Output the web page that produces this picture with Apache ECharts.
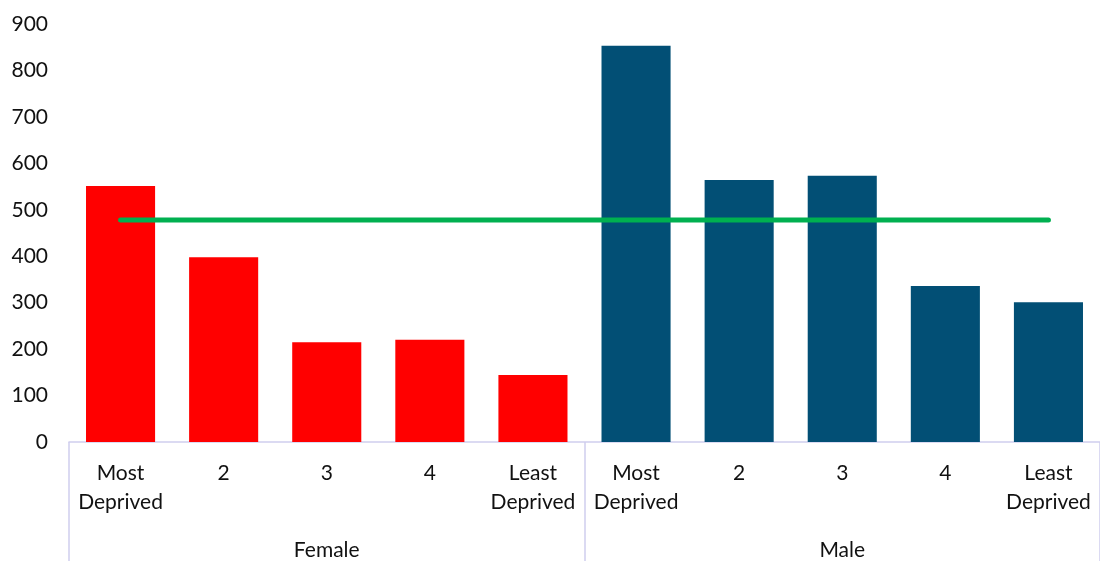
<!DOCTYPE html>
<html>
<head>
<meta charset="utf-8">
<script src="https://cdn.jsdelivr.net/npm/echarts@6/dist/echarts.min.js"></script>
<style>
  html, body { margin: 0; padding: 0; background: #fff; }
  #chart { width: 1100px; height: 561px; }
</style>
</head>
<body>
<div id="chart"></div>
<script>
// Deprivation quintiles, shown for each sex
const quintiles = ['Most\nDeprived', '2', '3', '4', 'Least\nDeprived'];
const sexes = ['Female', 'Male'];
const femaleValues = [551, 398, 215, 220, 144];
const maleValues = [853, 564, 573, 336, 301];
const overallAverage = 478;
const yTicks = [0, 100, 200, 300, 400, 500, 600, 700, 800, 900];

const femaleColor = '#FF0000';
const maleColor = '#024F75';
const font = 'Lato, "Open Sans", sans-serif';

const categories = quintiles.concat(quintiles);
const barData = femaleValues.map(v => ({ value: v, itemStyle: { color: femaleColor } }))
  .concat(maleValues.map(v => ({ value: v, itemStyle: { color: maleColor } })));
const lineData = categories.map(() => overallAverage);

const chart = echarts.init(document.getElementById('chart'), null, { renderer: 'canvas' });
chart.setOption({
  animation: false,
  grid: { left: 69, right: -2, top: 24, bottom: 119, containLabel: false },
  xAxis: [
    {
      type: 'category',
      data: categories,
      position: 'bottom',
      axisLine: { show: true, lineStyle: { color: '#D0CEEE', width: 1.5 } },
      axisTick: { show: false },
      axisLabel: {
        interval: 0, color: '#111', fontFamily: font, fontSize: 21,
        lineHeight: 29, margin: 17
      }
    },
    {
      type: 'category',
      data: sexes,
      position: 'bottom',
      axisLine: { show: false },
      axisTick: {
        show: true, alignWithLabel: false, length: 130,
        lineStyle: { color: '#D0CEEE', width: 1.5 }
      },
      axisLabel: { color: '#111', fontFamily: font, fontSize: 21, margin: 98 }
    }
  ],
  yAxis: {
    type: 'value',
    min: yTicks[0],
    max: yTicks[yTicks.length - 1],
    interval: 100,
    axisLine: { show: false },
    axisTick: { show: false },
    splitLine: { show: false },
    axisLabel: { color: '#111', fontFamily: font, fontSize: 21, margin: 21 }
  },
  series: [
    {
      type: 'bar',
      xAxisIndex: 0,
      data: barData,
      barCategoryGap: '33%'
    },
    {
      type: 'line',
      xAxisIndex: 0,
      data: lineData,
      symbol: 'none',
      lineStyle: { color: '#00B050', width: 5, cap: 'round' },
      z: 5
    }
  ]
});
</script>
</body>
</html>
